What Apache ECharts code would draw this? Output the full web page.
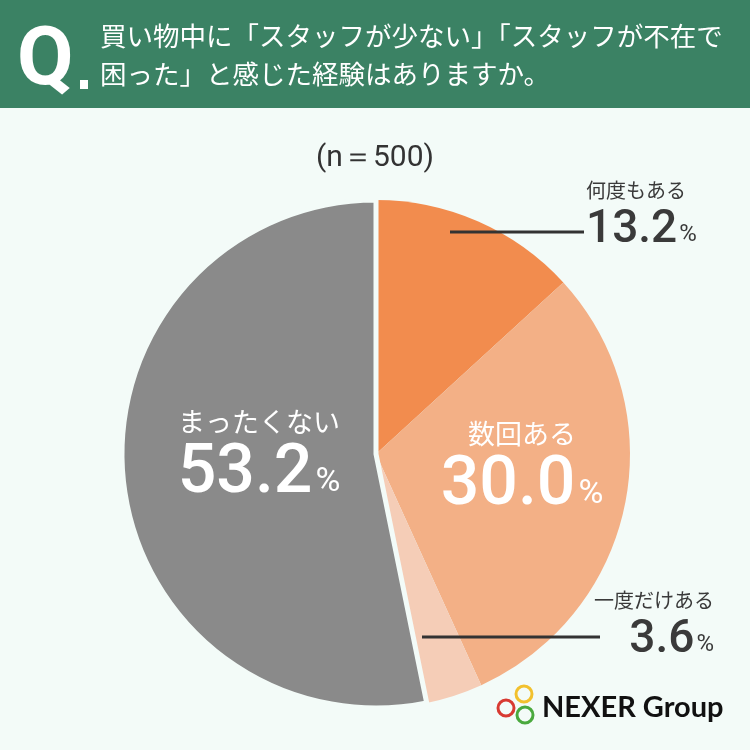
<!DOCTYPE html>
<html lang="ja">
<head>
    <meta charset="UTF-8">
    <script src="https://cdn.jsdelivr.net/npm/echarts@6/dist/echarts.min.js"></script>
    <title>スタッフ不在の経験</title>
    <style>
        html, body { margin: 0; padding: 0; background: #f3fbf8; }
        #chart { width: 750px; height: 750px; }
    </style>
</head>
<body>
<div id="chart"></div>
<script>
    // データ
    var categories = ['何度もある', '数回ある', '一度だけある', 'まったくない'];
    var percents = [13.2, 30.0, 3.6, 53.2];
    var sliceColors = ['#f28c4e', '#f3b086', '#f5cdb7', '#8a8a8a'];
    var titleLines = ['買い物中に「スタッフが少ない」「スタッフが不在で', '困った」と感じた経験はありますか。'];
    var sampleText = '(n＝500)';

    // ラベル配置 (x, y, 揃え, 引き出し線)
    var labelPos = [
        {x: 586, y: 175, align: 'left', verticalAlign: 'top', line: [450, 232, 584, 232]},
        {x: 522, y: 467, align: 'center', verticalAlign: 'middle'},
        {x: 714, y: 585, align: 'right', verticalAlign: 'top', line: [422, 637, 600, 637]},
        {x: 259, y: 455, align: 'center', verticalAlign: 'middle'}
    ];

    var chart = echarts.init(document.getElementById('chart'));

    var data = categories.map(function (name, i) {
        var inside = (i === 1 || i === 3);
        var item = {
            name: name,
            value: percents[i],
            itemStyle: {color: sliceColors[i]},
            label: inside ? {
                position: 'inside',
                rich: {
                    n: {fontSize: 27, color: '#fff', lineHeight: 40, fontFamily: 'Noto Sans CJK JP'},
                    v: {fontSize: 68, color: '#fff', lineHeight: 66, fontFamily: 'Roboto', fontWeight: 500},
                    p: {fontSize: 34, color: '#fff', lineHeight: 66, fontFamily: 'Roboto', padding: [14, 0, 0, 3]}
                }
            } : {
                position: 'outside',
                rich: {
                    n: {fontSize: 20, color: '#3a3a3a', lineHeight: 30, fontFamily: 'Noto Sans CJK JP'},
                    v: {fontSize: 46, color: '#3a3a3a', lineHeight: 50, fontFamily: 'Roboto', fontWeight: 500},
                    p: {fontSize: 24, color: '#3a3a3a', lineHeight: 50, fontFamily: 'Roboto', padding: [10, 0, 0, 2]}
                }
            }
        };
        if (i === 3) {
            item.itemStyle.borderColor = '#f3fbf8';
            item.itemStyle.borderWidth = 5;
        }
        return item;
    });

    var graphics = [
        {type: 'rect', shape: {x: 0, y: 0, width: 750, height: 108}, style: {fill: '#3b8264'}},
        {type: 'text', x: 17, y: 22, style: {text: 'Q', fill: '#fff', font: 'bold 82px Roboto'}},
        {type: 'rect', shape: {x: 80, y: 80, width: 8, height: 9}, style: {fill: '#fff'}},
        {type: 'text', x: 100, y: 23, style: {text: titleLines[0], fill: '#fff', font: '26.5px "Noto Sans CJK JP"'}},
        {type: 'text', x: 100, y: 61, style: {text: titleLines[1], fill: '#fff', font: '26.5px "Noto Sans CJK JP"'}},
        {type: 'text', x: 375, y: 158, style: {text: sampleText, fill: '#333', font: '30px Roboto', align: 'center', verticalAlign: 'middle'}},
        // ロゴ
        {type: 'circle', shape: {cx: 506, cy: 708, r: 8}, style: {fill: 'none', stroke: '#d83a32', lineWidth: 3}},
        {type: 'circle', shape: {cx: 524, cy: 694, r: 8}, style: {fill: 'none', stroke: '#f2c12e', lineWidth: 3}},
        {type: 'circle', shape: {cx: 525, cy: 715, r: 8}, style: {fill: 'none', stroke: '#4aa93e', lineWidth: 3}},
        {type: 'text', x: 542, y: 708, style: {text: 'NEXER Group', fill: '#111', font: 'bold 29px Lato', verticalAlign: 'middle'}}
    ];
    // 引き出し線
    labelPos.forEach(function (p) {
        if (!p.line) return;
        graphics.push({
            type: 'line', z: 100,
            shape: {x1: p.line[0], y1: p.line[1], x2: p.line[2], y2: p.line[3]},
            style: {stroke: '#333', lineWidth: 3}
        });
    });

    chart.setOption({
        backgroundColor: '#f3fbf8',
        animation: false,
        graphic: graphics,
        series: [{
            type: 'pie',
            center: [376, 454],
            radius: 254,
            startAngle: 90,
            clockwise: true,
            data: data,
            label: {
                formatter: function (p) {
                    return '{n|' + p.name + '}\n{v|' + p.value.toFixed(1) + '}{p|%}';
                }
            },
            labelLine: {show: false},
            labelLayout: function (params) {
                var pos = labelPos[params.dataIndex];
                return {x: pos.x, y: pos.y, align: pos.align, verticalAlign: pos.verticalAlign};
            }
        }]
    });
</script>
</body>
</html>
